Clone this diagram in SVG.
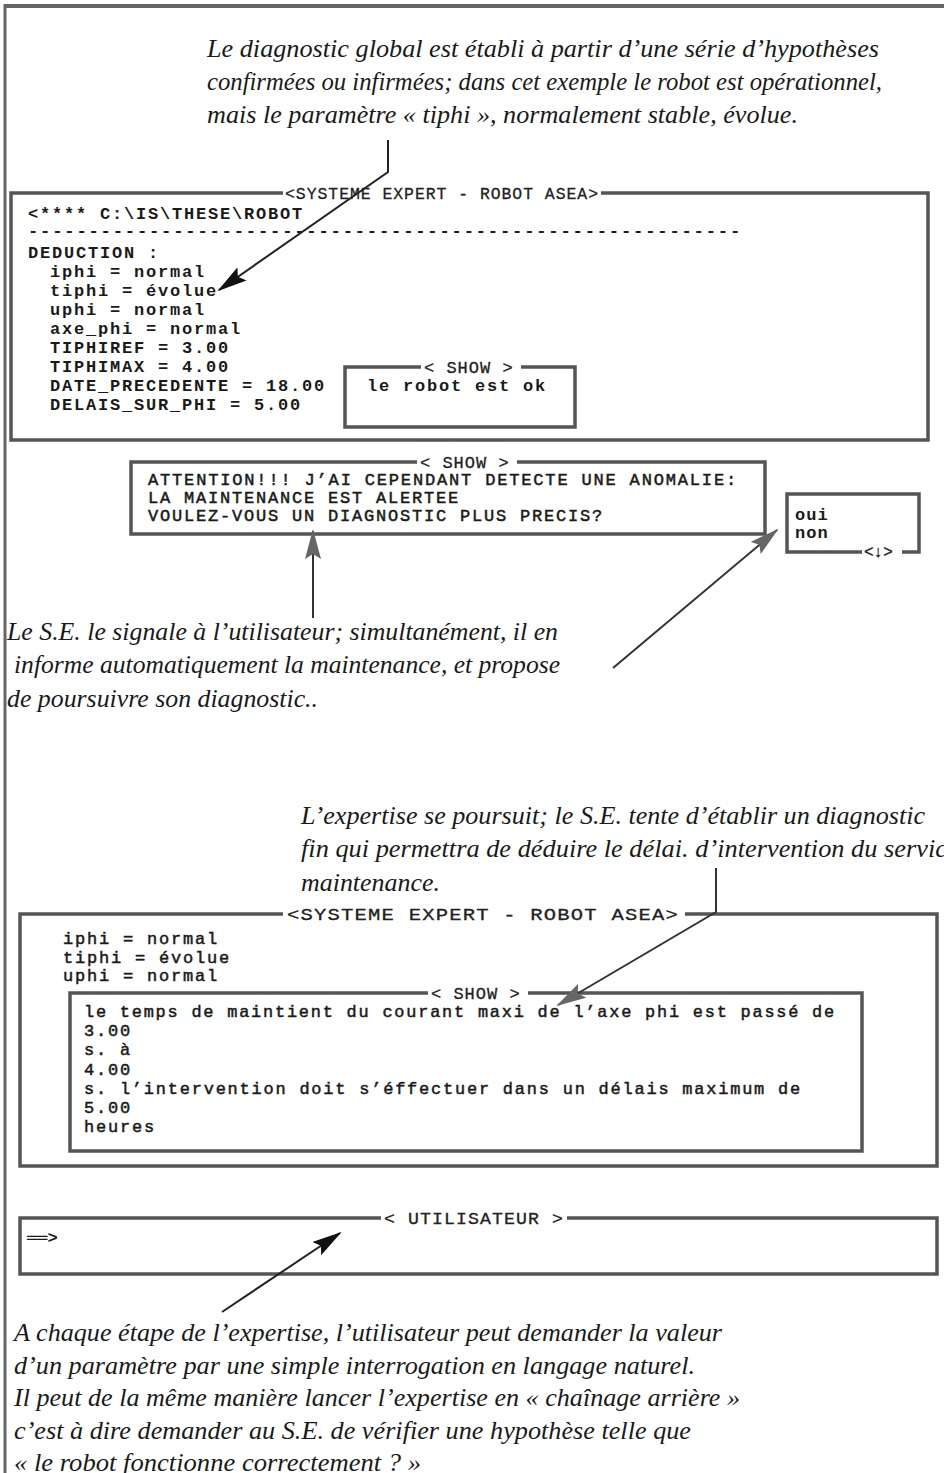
<svg xmlns="http://www.w3.org/2000/svg" width="944" height="1473" viewBox="0 0 944 1473">
<style>
.cap{font-family:"Liberation Serif","Times New Roman",serif;font-style:italic;font-size:25px;fill:#1a1a1a}
.mono{font-family:"Liberation Mono","Courier New",monospace;font-size:17px;letter-spacing:1.8px;font-weight:bold;fill:#1a1a1a}
.monor{font-family:"Liberation Mono","Courier New",monospace;font-size:17px;letter-spacing:1.8px;fill:#1a1a1a;stroke:#1a1a1a;stroke-width:0.5}
.ttl{font-family:"Liberation Mono","Courier New",monospace;font-size:17px;letter-spacing:1px;fill:#222;stroke:#222;stroke-width:0.3}
.frame{fill:none;stroke:#555;stroke-width:3.5}
.bg{fill:#fff}
.conn{stroke:#222;stroke-width:2;fill:none}
.conng{stroke:#333;stroke-width:2;fill:none}
</style>
<defs>
<marker id="ah" viewBox="0 0 30 16" markerWidth="30" markerHeight="16" refX="28" refY="8" orient="auto" markerUnits="userSpaceOnUse"><path d="M0,0 L30,8 L0,16 L5,8 z" fill="#111"/></marker>
<marker id="ahg" viewBox="0 0 30 16" markerWidth="30" markerHeight="16" refX="28" refY="8" orient="auto" markerUnits="userSpaceOnUse"><path d="M0,0 L30,8 L0,16 L5,8 z" fill="#666"/></marker>
</defs>
<rect x="0" y="0" width="944" height="1473" fill="#fff"/>
<g id="page-frame">
<line x1="4" y1="6" x2="944" y2="6" stroke="#666" stroke-width="4"/>
<line x1="5" y1="4" x2="5" y2="1473" stroke="#666" stroke-width="3"/>
</g>
<g id="caption1">
<text class="cap" x="207" y="57" textLength="672" lengthAdjust="spacingAndGlyphs">Le diagnostic global est établi à partir d’une série d’hypothèses</text>
<text class="cap" x="207" y="90" textLength="675" lengthAdjust="spacingAndGlyphs">confirmées ou infirmées; dans cet exemple le robot est opérationnel,</text>
<text class="cap" x="207" y="123" textLength="591" lengthAdjust="spacingAndGlyphs">mais le paramètre « tiphi », normalement stable, évolue.</text>
</g>
<g id="window1">
<rect class="frame" x="11" y="193" width="917" height="247"/>
<rect class="bg" x="283" y="184" width="318" height="18"/>
<text class="ttl" x="285" y="199" textLength="314" lengthAdjust="spacingAndGlyphs">&lt;SYSTEME EXPERT - ROBOT ASEA&gt;</text>
<text class="mono" x="28" y="219">&lt;**** C:\IS\THESE\ROBOT</text>
<text class="mono" x="28" y="236" textLength="714" lengthAdjust="spacingAndGlyphs">-----------------------------------------------------------</text>
<text class="mono" x="28" y="258">DEDUCTION :</text>
<text class="mono" x="50" y="277">iphi = normal</text>
<text class="mono" x="50" y="296">tiphi = évolue</text>
<text class="mono" x="50" y="315">uphi = normal</text>
<text class="mono" x="50" y="334">axe_phi = normal</text>
<text class="mono" x="50" y="353">TIPHIREF =  3.00</text>
<text class="mono" x="50" y="372">TIPHIMAX =  4.00</text>
<text class="mono" x="50" y="391">DATE_PRECEDENTE =  18.00</text>
<text class="mono" x="50" y="410">DELAIS_SUR_PHI =  5.00</text>
</g>
<g id="show1">
<rect class="frame" x="345" y="367" width="230" height="60"/>
<rect class="bg" x="421" y="359" width="100" height="16"/>
<text class="ttl" x="424" y="373">&lt; SHOW &gt;</text>
<text class="mono" x="367" y="391">le robot est ok</text>
</g>
<g id="show2">
<rect class="frame" x="131" y="462" width="634" height="72"/>
<rect class="bg" x="417" y="454" width="100" height="16"/>
<text class="ttl" x="420" y="468">&lt; SHOW &gt;</text>
<text class="monor" x="148" y="485" textLength="590" lengthAdjust="spacingAndGlyphs">ATTENTION!!! J’AI CEPENDANT DETECTE UNE ANOMALIE:</text>
<text class="monor" x="148" y="503">LA MAINTENANCE EST ALERTEE</text>
<text class="monor" x="148" y="521">VOULEZ-VOUS UN DIAGNOSTIC PLUS PRECIS?</text>
</g>
<g id="choice">
<rect class="frame" x="787" y="494" width="132" height="58"/>
<rect class="bg" x="862" y="543" width="40" height="17"/>
<text class="ttl" x="864" y="557" style="font-size:16px;letter-spacing:0">&lt;↓&gt;</text>
<text class="mono" x="795" y="520" style="letter-spacing:1px">oui</text>
<text class="mono" x="795" y="538" style="letter-spacing:1px">non</text>
</g>
<g id="caption2">
<text class="cap" x="7" y="640" textLength="551" lengthAdjust="spacingAndGlyphs">Le S.E. le signale à l’utilisateur; simultanément, il en</text>
<text class="cap" x="14" y="673" textLength="546" lengthAdjust="spacingAndGlyphs">informe automatiquement la maintenance, et propose</text>
<text class="cap" x="7" y="707" textLength="311" lengthAdjust="spacingAndGlyphs">de poursuivre son diagnostic..</text>
</g>
<g id="caption3">
<text class="cap" x="301" y="824" textLength="624" lengthAdjust="spacingAndGlyphs">L’expertise se poursuit; le S.E. tente d’établir un diagnostic</text>
<text class="cap" x="301" y="857" textLength="646" lengthAdjust="spacingAndGlyphs">fin qui permettra de déduire le délai.  d’intervention du servic</text>
<text class="cap" x="301" y="891" textLength="139" lengthAdjust="spacingAndGlyphs">maintenance.</text>
</g>
<g id="window2">
<rect class="frame" x="20" y="914" width="917" height="252"/>
<rect class="bg" x="283" y="905" width="402" height="17"/>
<text class="ttl" x="287" y="920" textLength="392" lengthAdjust="spacingAndGlyphs">&lt;SYSTEME EXPERT - ROBOT ASEA&gt;</text>
<text class="monor" x="63" y="944">iphi = normal</text>
<text class="monor" x="63" y="963">tiphi = évolue</text>
<text class="monor" x="63" y="981">uphi = normal</text>
</g>
<g id="show3">
<rect class="frame" x="70" y="993" width="792" height="158"/>
<rect class="bg" x="428" y="985" width="100" height="16"/>
<text class="ttl" x="431" y="999">&lt; SHOW &gt;</text>
<text class="monor" x="84" y="1017" textLength="752" lengthAdjust="spacingAndGlyphs">le temps de maintient du courant maxi de l’axe phi est passé de</text>
<text class="monor" x="84" y="1036">3.00</text>
<text class="monor" x="84" y="1055">s. à</text>
<text class="monor" x="84" y="1075">4.00</text>
<text class="monor" x="84" y="1094" textLength="718" lengthAdjust="spacingAndGlyphs">s. l’intervention doit s’éffectuer dans un délais maximum de</text>
<text class="monor" x="84" y="1113">5.00</text>
<text class="monor" x="84" y="1132">heures</text>
</g>
<g id="window3">
<rect class="frame" x="20" y="1218" width="917" height="56"/>
<rect class="bg" x="381" y="1209" width="186" height="17"/>
<text class="ttl" x="384" y="1224" textLength="180" lengthAdjust="spacingAndGlyphs">&lt; UTILISATEUR &gt;</text>
<text class="mono" x="27" y="1243" style="letter-spacing:0">══&gt;</text>
</g>
<g id="caption4">
<text class="cap" x="14" y="1341" textLength="708" lengthAdjust="spacingAndGlyphs">A chaque étape de l’expertise, l’utilisateur peut demander la valeur</text>
<text class="cap" x="14" y="1374" textLength="681" lengthAdjust="spacingAndGlyphs">d’un paramètre par une simple interrogation en langage naturel.</text>
<text class="cap" x="14" y="1406" textLength="726" lengthAdjust="spacingAndGlyphs">Il peut de la même manière lancer l’expertise en « chaînage arrière »</text>
<text class="cap" x="14" y="1439" textLength="677" lengthAdjust="spacingAndGlyphs">c’est à dire demander au S.E. de vérifier une hypothèse telle que</text>
<text class="cap" x="14" y="1471" textLength="407" lengthAdjust="spacingAndGlyphs">« le robot fonctionne correctement ? »</text>
</g>
<g id="connectors">
<path class="conn" d="M388,140 V172 L219,290" marker-end="url(#ah)"/>
<path class="conng" d="M313,618 V531" marker-end="url(#ahg)"/>
<path class="conng" d="M613,668 L777,530" marker-end="url(#ahg)"/>
<path class="conng" d="M716,868 V912 L558,1005" marker-end="url(#ahg)"/>
<path class="conn" d="M222,1312 L340,1233" marker-end="url(#ah)"/>
</g>
</svg>
